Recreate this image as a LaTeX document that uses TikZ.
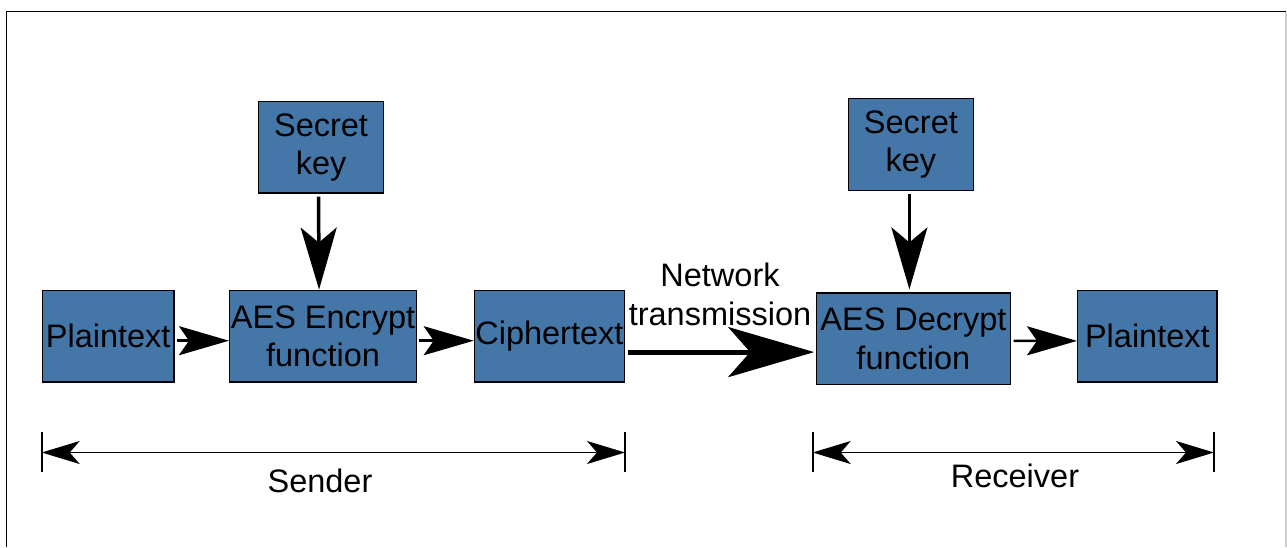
\documentclass[tikz,border=0pt]{standalone}
\usepackage{fontspec}
\setmainfont{Liberation Sans}
\usetikzlibrary{arrows.meta}
\definecolor{boxblue}{RGB}{68,119,168}
\begin{document}
\begin{tikzpicture}[x=1pt,y=-1pt,
  blk/.style={draw=black,line width=1.4pt,fill=boxblue,anchor=north west,inner sep=0pt,
    align=center,font=\fontsize{32.5}{38.5}\selectfont},
  lbl/.style={font=\fontsize{32.5}{39}\selectfont,align=center,inner sep=0pt},
  smallarrow/.style={line width=2.5pt,-{Stealth[length=50pt,width=29pt,inset=10pt]}},
  keyarrow/.style={line width=3.5pt,-{Stealth[length=62pt,width=36pt,inset=15pt]}},
  netarrow/.style={line width=5pt,-{Stealth[length=86pt,width=50pt,inset=22pt]}},
  dimarrow/.style={line width=1.8pt,{Stealth[length=38pt,width=23pt,inset=10pt]}-{Stealth[length=38pt,width=23pt,inset=10pt]}},
  tick/.style={line width=2pt}]
\useasboundingbox (0,0) rectangle (1287,547);
% frame
\draw[line width=1.3pt] (6.7,547) -- (6.7,11.7) -- (1286,11.7);
\draw[line width=1.3pt,black!20] (1286,11.7) -- (1286,547);
% boxes
\node[blk,minimum width=124.7pt,minimum height=91.3pt] (key1) at (258,101) {Secret\\key};
\node[blk,minimum width=131.6pt,minimum height=91.8pt] (p1) at (41.7,289.6) {Plaintext};
\node[blk,minimum width=186.7pt,minimum height=91.8pt] (enc) at (229,289.6) {AES Encrypt\\function};
\node[blk,minimum width=150pt,minimum height=91.8pt] (ciph) at (473.7,289.6) {Ciphertext};
\node[blk,minimum width=194pt,minimum height=91.4pt] (dec) at (815.7,292.4) {AES Decrypt\\function};
\node[blk,minimum width=125pt,minimum height=91.8pt] (key2) at (847.7,97.7) {Secret\\key};
\node[blk,minimum width=139.3pt,minimum height=91.8pt] (p2) at (1077,289.6) {Plaintext};
% arrows
\draw[keyarrow] ([xshift=-2.5pt,yshift=-3pt]key1.south) -- ([xshift=-4pt]enc.north);
\draw[keyarrow] ([xshift=-1.5pt,yshift=-3pt]key2.south) -- ([xshift=-4pt,yshift=3pt]dec.north);
\draw[smallarrow] ([xshift=2pt,yshift=-4.5pt]p1.east) -- ([yshift=-4.5pt]enc.west);
\draw[smallarrow] ([xshift=1.5pt,yshift=-4.5pt]enc.east) -- ([yshift=-4.5pt]ciph.west);
\draw[netarrow] ([xshift=3pt,yshift=-15.9pt]ciph.east) -- ([xshift=-1.5pt,yshift=-13.3pt]dec.west);
\draw[smallarrow] ([xshift=2.6pt,yshift=-2pt]dec.east) -- ([yshift=-4.7pt]p2.west);
\node[lbl] (net) at (720,294) {Network\\transmission};
% sender / receiver spans
\coordinate (s1) at (41.7,452.5);
\coordinate (s2) at (625,452.5);
\coordinate (r1) at (812.7,452.5);
\coordinate (r2) at (1214,452.5);
\draw[tick] ([yshift=21pt]s1) -- ([yshift=-19pt]s1);
\draw[tick] ([yshift=21pt]s2) -- ([yshift=-19pt]s2);
\draw[tick] ([yshift=21pt]r1) -- ([yshift=-19pt]r1);
\draw[tick] ([yshift=21pt]r2) -- ([yshift=-19pt]r2);
\draw[dimarrow] (s1) -- (s2);
\draw[dimarrow] (r1) -- (r2);
\node[lbl] (sender) at (320,481) {Sender};
\node[lbl] (receiver) at (1015,476) {Receiver};
\end{tikzpicture}
\end{document}
